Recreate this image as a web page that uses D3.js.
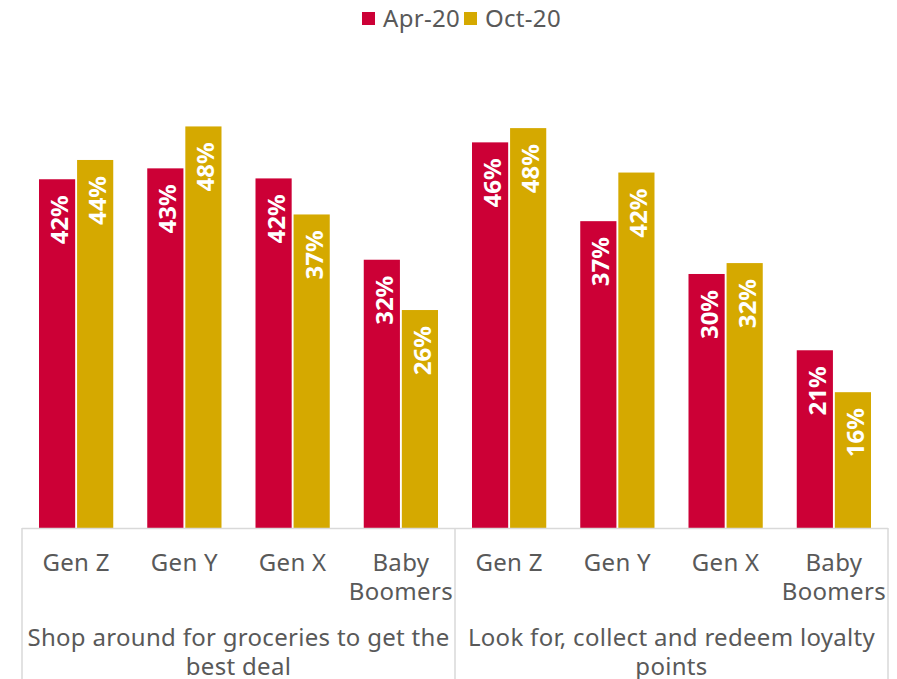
<!DOCTYPE html>
<html>
<head>
<meta charset="utf-8">
<script src="https://cdn.jsdelivr.net/npm/d3@7"></script>
<style>
  body { margin: 0; background: #fff; }
  text { font-family: "Noto Sans", "DejaVu Sans", sans-serif; }
  .tick-label, .group-label, .legend-label { fill: #595959; font-size: 24px; letter-spacing: 0.3px; }
  .value-label { fill: #fff; font-size: 24px; font-weight: bold; }
</style>
</head>
<body>
<div id="wrapper"></div>
<script>
// 1. Data

const groupLines = [["Shop around for groceries to get the", "best deal"], ["Look for, collect and redeem loyalty", "points"]];
const generations = ["Gen Z", "Gen Y", "Gen X", "Baby Boomers"];
const genLines = [["Gen Z"], ["Gen Y"], ["Gen X"], ["Baby", "Boomers"]];
const seriesNames = ["Apr-20", "Oct-20"];
const colors = ["#CC0036", "#D5A900"];
// values; labels show the rounded percent
const apr20 = [41.6, 42.9, 41.7, 32.0, 46.0, 36.6, 30.3, 21.2];
const oct20 = [43.9, 47.9, 37.4, 26.0, 47.7, 42.4, 31.6, 16.2];

// 2. Dimensions

const dimensions = {
  width: 897,
  height: 679,
  margin: { top: 25, right: 9, bottom: 151, left: 22 },
};
dimensions.boundedWidth = dimensions.width - dimensions.margin.left - dimensions.margin.right;
dimensions.boundedHeight = dimensions.height - dimensions.margin.top - dimensions.margin.bottom;

// 3. Canvas

const wrapper = d3.select("#wrapper")
  .append("svg")
    .attr("width", dimensions.width)
    .attr("height", dimensions.height);

const bounds = wrapper.append("g")
    .attr("transform", `translate(${dimensions.margin.left}, ${dimensions.margin.top})`);

// 4. Scales

const cells = d3.range(groupLines.length * generations.length).map(i => ({
  key: i,
  gen: i % generations.length,
  group: Math.floor(i / generations.length),
  values: [apr20[i], oct20[i]],
}));

const xScale = d3.scaleBand()
  .domain(cells.map(d => d.key))
  .range([0, dimensions.boundedWidth]);

const innerScale = d3.scaleBand()
  .domain([0, 1])
  .range([17, xScale.bandwidth() - 17])
  .paddingInner(0.05);

const yScale = d3.scaleLinear()
  .domain([0, 60])
  .range([dimensions.boundedHeight, 0]);

// 5. Bars

const cellGroups = bounds.selectAll(".cell")
  .data(cells)
  .join("g")
    .attr("class", "cell")
    .attr("transform", d => `translate(${xScale(d.key)}, 0)`);

const bars = cellGroups.selectAll("g.bar")
  .data(d => d.values.map((v, s) => ({ v, s })))
  .join("g")
    .attr("class", "bar");

bars.append("rect")
    .attr("x", d => innerScale(d.s))
    .attr("y", d => yScale(d.v))
    .attr("width", innerScale.bandwidth())
    .attr("height", d => yScale(0) - yScale(d.v))
    .attr("fill", d => colors[d.s]);

bars.append("text")
    .attr("class", "value-label")
    .attr("transform", d => `translate(${innerScale(d.s) + innerScale.bandwidth() / 2 + 11}, ${yScale(d.v) + 16}) rotate(-90)`)
    .attr("text-anchor", "end")
    .text(d => Math.round(d.v) + "%");

// 6. Peripherals

const axisColor = "#D9D9D9";
const axis = bounds.append("g")
    .attr("transform", `translate(0, ${dimensions.boundedHeight})`);

axis.append("line")
    .attr("x1", 0)
    .attr("x2", dimensions.boundedWidth)
    .attr("y1", 0.5)
    .attr("y2", 0.5)
    .attr("stroke", axisColor)
    .attr("stroke-width", 1.5);

const groupWidth = xScale.step() * generations.length;
d3.range(groupLines.length + 1).forEach(g => {
  axis.append("line")
      .attr("x1", g * groupWidth)
      .attr("x2", g * groupWidth)
      .attr("y1", 0)
      .attr("y2", dimensions.margin.bottom)
      .attr("stroke", axisColor)
      .attr("stroke-width", 1.5);
});

axis.selectAll(".tick-label")
  .data(cells)
  .join("text")
    .attr("class", "tick-label")
    .attr("text-anchor", "middle")
    .attr("x", d => xScale(d.key) + xScale.bandwidth() / 2)
    .attr("y", 43)
  .selectAll("tspan")
  .data(d => genLines[d.gen])
  .join("tspan")
    .attr("x", function() { return this.parentNode.getAttribute("x"); })
    .attr("dy", (d, i) => i ? 29 : 0)
    .text(d => d);

axis.selectAll(".group-label")
  .data(groupLines)
  .join("text")
    .attr("class", "group-label")
    .attr("text-anchor", "middle")
    .attr("x", (d, i) => i * groupWidth + groupWidth / 2)
    .attr("y", 118)
  .selectAll("tspan")
  .data(d => d)
  .join("tspan")
    .attr("x", function() { return this.parentNode.getAttribute("x"); })
    .attr("dy", (d, i) => i ? 29 : 0)
    .text(d => d);

// legend
const legend = wrapper.append("g")
    .attr("transform", "translate(362, 0)");
const legendOffsets = [0, 102];
const legendItems = legend.selectAll("g")
  .data(seriesNames)
  .join("g")
    .attr("transform", (d, i) => `translate(${legendOffsets[i]}, 0)`);
legendItems.append("rect")
    .attr("y", 12)
    .attr("width", 13)
    .attr("height", 13)
    .attr("fill", (d, i) => colors[i]);
legendItems.append("text")
    .attr("class", "legend-label")
    .attr("x", 21)
    .attr("y", 27)
    .text(d => d);
</script>
</body>
</html>
